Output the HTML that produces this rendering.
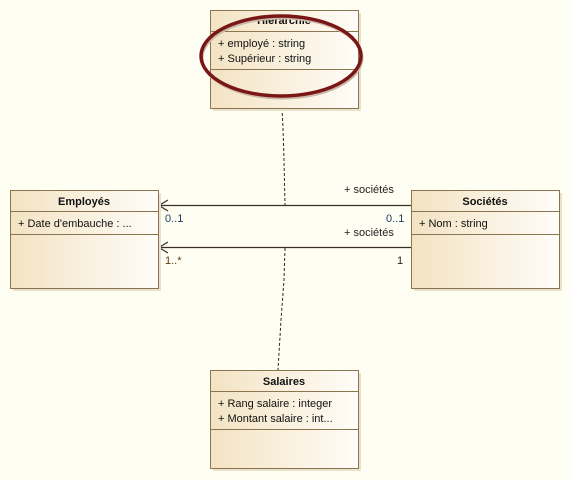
<!DOCTYPE html>
<html><head><meta charset="utf-8"><style>
body{margin:0;background:#fffef2;}
svg{display:block;font-family:"Liberation Sans",sans-serif;font-size:11px;}
</style></head><body>
<svg width="570" height="480" viewBox="0 0 570 480">
<defs>
<linearGradient id="g" x1="0" x2="1" y1="0" y2="0">
<stop offset="0" stop-color="#f3e3c3"/><stop offset="1" stop-color="#fffdf8"/>
</linearGradient>
</defs>
<rect width="570" height="480" fill="#fffef2"/>
<g stroke="#2a2a2a" stroke-width="1" stroke-dasharray="3,2" fill="none">
<polyline points="282,108 283,128 284,160 285,205"/>
<polyline points="285,248 284,280 281,320 278,370"/>
</g>
<g stroke="#3a3020" stroke-width="1.2" fill="none">
<line x1="158" y1="205.5" x2="411" y2="205.5"/>
<line x1="158" y1="247.5" x2="411" y2="247.5"/>
<polyline points="168,200 159,205.5 168,211"/>
<polyline points="168,242 159,247.5 168,253"/>
</g>
<g fill="#222">
<text x="344" y="193">+ sociétés</text>
<text x="165" y="222" fill="#1f3d66">0..1</text>
<text x="386" y="222" fill="#1f3d66">0..1</text>
<text x="344" y="236">+ sociétés</text>
<text x="165" y="264" fill="#5a3a10">1..*</text>
<text x="397" y="264">1</text>
</g>
<g stroke="#8a7550" stroke-width="1">
<rect x="213" y="13" width="148" height="98" fill="#e8e2cc" stroke="none"/>
<rect x="210.5" y="10.5" width="148" height="98" fill="url(#g)"/>
<line x1="210" y1="31.5" x2="358" y2="31.5"/><line x1="210" y1="69.5" x2="358" y2="69.5"/>
<rect x="13" y="193" width="148" height="98" fill="#e8e2cc" stroke="none"/>
<rect x="10.5" y="190.5" width="148" height="98" fill="url(#g)"/>
<line x1="10" y1="211.5" x2="158" y2="211.5"/><line x1="10" y1="234.5" x2="158" y2="234.5"/>
<rect x="414" y="193" width="148" height="98" fill="#e8e2cc" stroke="none"/>
<rect x="411.5" y="190.5" width="148" height="98" fill="url(#g)"/>
<line x1="411" y1="211.5" x2="559" y2="211.5"/><line x1="411" y1="234.5" x2="559" y2="234.5"/>
<rect x="213" y="373" width="148" height="98" fill="#e8e2cc" stroke="none"/>
<rect x="210.5" y="370.5" width="148" height="98" fill="url(#g)"/>
<line x1="210" y1="391.5" x2="358" y2="391.5"/><line x1="210" y1="429.5" x2="358" y2="429.5"/>
</g>
<g fill="#111">
<text x="284" y="24" text-anchor="middle" font-weight="bold">Hierarchie</text>
<text x="218" y="47">+ employé : string</text>
<text x="218" y="62">+ Supérieur : string</text>
<text x="84" y="205" text-anchor="middle" font-weight="bold">Employés</text>
<text x="18" y="227">+ Date d'embauche : ...</text>
<text x="485" y="205" text-anchor="middle" font-weight="bold">Sociétés</text>
<text x="419" y="227">+ Nom : string</text>
<text x="284" y="385" text-anchor="middle" font-weight="bold">Salaires</text>
<text x="218" y="407">+ Rang salaire : integer</text>
<text x="218" y="422">+ Montant salaire : int...</text>
</g>
<ellipse cx="281" cy="56" rx="80" ry="40" fill="none" stroke="#c9b8a8" stroke-width="3" transform="translate(1,2)"/>
<ellipse cx="281" cy="56" rx="80" ry="40" fill="none" stroke="#7a1616" stroke-width="3.5"/>
</svg>
</body></html>
